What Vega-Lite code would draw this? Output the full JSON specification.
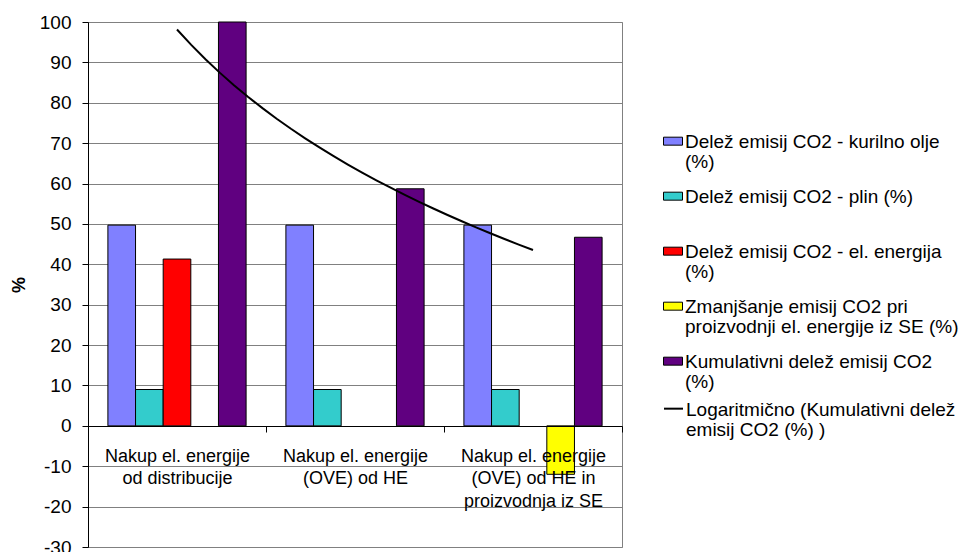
{
  "$schema": "https://vega.github.io/schema/vega-lite/v6.json",
  "width": 534,
  "height": 525,
  "autosize": {"type": "none"},
  "padding": {"left": 88, "top": 22, "right": 338, "bottom": 5},
  "background": "white",
  "config": {
    "font": "Liberation Sans",
    "view": {"stroke": "#808080", "strokeWidth": 1},
    "style": {"guide-label": {"lineHeight": 20}}
  },
  "data": {
    "values": [
      {"category": "Nakup el. energije od distribucije", "idx": 1, "series": "Delež emisij CO2 - kurilno olje (%)", "value": 49.7},
      {"category": "Nakup el. energije od distribucije", "idx": 1, "series": "Delež emisij CO2 - plin (%)", "value": 9.0},
      {"category": "Nakup el. energije od distribucije", "idx": 1, "series": "Delež emisij CO2 - el. energija (%)", "value": 41.3},
      {"category": "Nakup el. energije od distribucije", "idx": 1, "series": "Kumulativni delež emisij CO2 (%)", "value": 100},
      {"category": "Nakup el. energije (OVE) od HE", "idx": 2, "series": "Delež emisij CO2 - kurilno olje (%)", "value": 49.7},
      {"category": "Nakup el. energije (OVE) od HE", "idx": 2, "series": "Delež emisij CO2 - plin (%)", "value": 9.0},
      {"category": "Nakup el. energije (OVE) od HE", "idx": 2, "series": "Kumulativni delež emisij CO2 (%)", "value": 58.7},
      {"category": "Nakup el. energije (OVE) od HE in proizvodnja iz SE", "idx": 3, "series": "Delež emisij CO2 - kurilno olje (%)", "value": 49.7},
      {"category": "Nakup el. energije (OVE) od HE in proizvodnja iz SE", "idx": 3, "series": "Delež emisij CO2 - plin (%)", "value": 9.0},
      {"category": "Nakup el. energije (OVE) od HE in proizvodnja iz SE", "idx": 3, "series": "Zmanjšanje emisij CO2 pri proizvodnji el. energije iz SE (%)", "value": -12.0},
      {"category": "Nakup el. energije (OVE) od HE in proizvodnja iz SE", "idx": 3, "series": "Kumulativni delež emisij CO2 (%)", "value": 46.7}
    ]
  },
  "layer": [
    {
      "mark": {"type": "bar", "stroke": "#000000", "strokeWidth": 1},
      "encoding": {
        "x": {
          "field": "category", "type": "nominal", "sort": null,
          "scale": {"paddingInner": 0, "paddingOuter": 0},
          "axis": {
            "title": null, "offset": -121, "tickBand": "extent", "ticks": true, "tickSize": 6,
            "tickColor": "#000000", "domainColor": "#000000", "labelAngle": 0, "labelFontSize": 18,
            "labelColor": "#000000", "labelPadding": 15, "labelLineHeight": 22.5, "labelBaseline": "top",
            "labelLimit": 250, "zindex": 1, "grid": false,
            "labelExpr": "datum.value == 'Nakup el. energije od distribucije' ? ['Nakup el. energije','od distribucije'] : datum.value == 'Nakup el. energije (OVE) od HE' ? ['Nakup el. energije','(OVE) od HE'] : datum.value == 'Nakup el. energije (OVE) od HE in proizvodnja iz SE' ? ['Nakup el. energije','(OVE) od HE in','proizvodnja iz SE'] : ''"
          }
        },
        "xOffset": {
          "field": "series", "type": "nominal",
          "scale": {
            "paddingOuter": 0.72, "paddingInner": 0,
            "domain": ["Delež emisij CO2 - kurilno olje (%)", "Delež emisij CO2 - plin (%)", "Delež emisij CO2 - el. energija (%)", "Zmanjšanje emisij CO2 pri proizvodnji el. energije iz SE (%)", "Kumulativni delež emisij CO2 (%)"]
          }
        },
        "y": {
          "field": "value", "type": "quantitative",
          "scale": {"domain": [-30, 100], "nice": false, "zero": false},
          "axis": {
            "title": "%", "titleFontSize": 18, "titleFontWeight": "bold", "titleColor": "#000000",
            "titlePadding": 11,
            "values": [-30, -20, -10, 0, 10, 20, 30, 40, 50, 60, 70, 80, 90, 100],
            "labelExpr": "'' + datum.value",
            "labelFontSize": 19, "labelColor": "#000000", "tickColor": "#000000", "tickSize": 6,
            "domainColor": "#000000", "labelPadding": 11, "grid": true, "gridColor": "#808080", "gridOpacity": 1
          }
        },
        "fill": {
          "field": "series", "type": "nominal",
          "scale": {
            "domain": ["Delež emisij CO2 - kurilno olje (%)", "Delež emisij CO2 - plin (%)", "Delež emisij CO2 - el. energija (%)", "Zmanjšanje emisij CO2 pri proizvodnji el. energije iz SE (%)", "Kumulativni delež emisij CO2 (%)"],
            "range": ["#8080FF", "#33CCCC", "#FF0000", "#FFFF00", "#600080"]
          },
          "legend": {
            "orient": "none", "legendX": 575, "legendY": 101, "title": null, "padding": 0,
            "symbolType": "M-1,0.44L1,0.44L1,1.28L-1,1.28Z", "symbolSize": 361,
            "symbolStrokeColor": "#000000", "symbolStrokeWidth": 1, "symbolOpacity": 1,
            "labelFontSize": 19, "labelColor": "#000000", "labelLimit": 400, "labelOffset": 2,
            "labelBaseline": "top", "rowPadding": 6,
            "labelExpr": "datum.label == 'Delež emisij CO2 - kurilno olje (%)' ? ['Delež emisij CO2 - kurilno olje','(%)'] : datum.label == 'Delež emisij CO2 - plin (%)' ? ['Delež emisij CO2 - plin (%)',''] : datum.label == 'Delež emisij CO2 - el. energija (%)' ? ['Delež emisij CO2 - el. energija','(%)'] : datum.label == 'Kumulativni delež emisij CO2 (%)' ? ['Kumulativni delež emisij CO2','(%)'] : ['Zmanjšanje emisij CO2 pri','proizvodnji el. energije iz SE (%)']"
          }
        }
      }
    },
    {
      "transform": [
        {"filter": "datum.series == 'Kumulativni delež emisij CO2 (%)'"},
        {"regression": "value", "on": "idx", "method": "log", "extent": [1, 3]}
      ],
      "mark": {"type": "line", "strokeWidth": 2},
      "encoding": {
        "x": {"field": "idx", "type": "quantitative", "scale": {"domain": [0.5, 3.5], "nice": false, "zero": false}, "axis": null},
        "y": {"field": "value", "type": "quantitative"},
        "stroke": {
          "datum": "Logaritmično (Kumulativni delež emisij CO2 (%) )",
          "scale": {"range": ["#000000"]},
          "legend": {
            "orient": "none", "legendX": 575, "legendY": 368, "title": null, "padding": 0,
            "symbolType": "M-1,0.86L1,0.86", "symbolSize": 361, "symbolStrokeWidth": 2,
            "labelFontSize": 19, "labelColor": "#000000", "labelLimit": 400, "labelOffset": 2,
            "labelBaseline": "top",
            "labelExpr": "['Logaritmično (Kumulativni delež','emisij CO2 (%) )']"
          }
        }
      }
    }
  ],
  "resolve": {"scale": {"x": "independent"}}
}
